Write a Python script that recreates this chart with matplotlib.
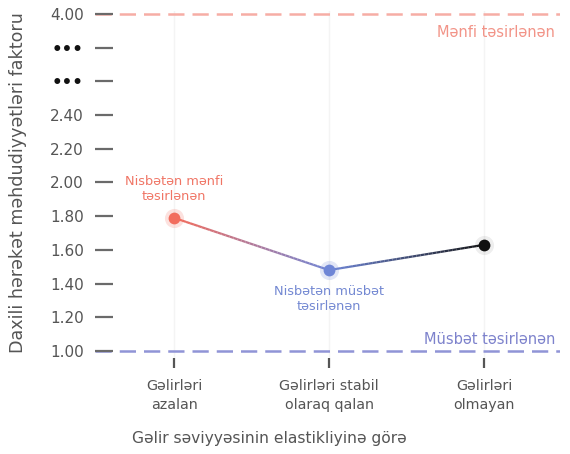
import numpy as np
import matplotlib
matplotlib.use("Agg")
import matplotlib.pyplot as plt
from matplotlib.collections import LineCollection
from matplotlib.colors import LinearSegmentedColormap

categories = ["Gəlirləri\nazalan", "Gəlirləri stabil\nolaraq qalan", "Gəlirləri\nolmayan"]
values = [1.79, 1.48, 1.63]
point_colors = ["#f26d5e", "#6f86d6", "#111111"]

ytick_values = [1.00, 1.20, 1.40, 1.60, 1.80, 2.00, 2.20, 2.40, None, None, 4.00]
ytick_labels = ["1.00", "1.20", "1.40", "1.60", "1.80", "2.00", "2.20", "2.40", "•••", "•••", "4.00"]

neg_ref = 4.00
pos_ref = 1.00


def ypos(v):
    # compressed axis: 1.00..2.40 linear, 4.00 at top slot
    if v >= 4.0:
        return 10.0
    return (v - 1.0) / 0.2


plt.rcParams['font.family'] = ['DejaVu Sans']

fig = plt.figure(figsize=(5.7, 4.54), dpi=100)
ax = fig.add_axes([0.1667, 0.2106, 0.8158, 0.766])

x = np.arange(len(categories))
y = np.array([ypos(v) for v in values])

# faint vertical guides
for xi in x:
    ax.axvline(xi, color="#f4f4f4", lw=1, zorder=0)

# reference lines
ax.axhline(ypos(neg_ref), color="#f6ada5", lw=1.8, dashes=(6.5, 3.2), zorder=1)
ax.axhline(ypos(pos_ref), color="#9094d6", lw=1.8, dashes=(6.5, 3.2), zorder=1)
ax.text(2.46, ypos(neg_ref) - 0.32, "Mənfi təsirlənən", color="#f29488",
        ha="right", va="top", fontsize=10.5)
ax.text(2.46, ypos(pos_ref) + 0.12, "Müsbət təsirlənən", color="#7d82cc",
        ha="right", va="bottom", fontsize=10.5)

# gradient line between points
for i in range(len(x) - 1):
    t = np.linspace(0, 1, 40)
    xs = x[i] + t * (x[i + 1] - x[i])
    ys = y[i] + t * (y[i + 1] - y[i])
    pts = np.column_stack([xs, ys]).reshape(-1, 1, 2)
    segs = np.concatenate([pts[:-1], pts[1:]], axis=1)
    cmap = LinearSegmentedColormap.from_list("g", [point_colors[i], point_colors[i + 1]])
    lc = LineCollection(segs, colors=cmap(t[:-1]), linewidths=1.6, zorder=2)
    ax.add_collection(lc)

# points with soft halo
halo = [0.2, 0.2, 0.07]
for xi, yi, c, a in zip(x, y, point_colors, halo):
    ax.scatter(xi, yi, s=190, color=c, alpha=a, lw=0, zorder=3)
    ax.scatter(xi, yi, s=72, color=c, lw=0, zorder=4)

ax.text(x[0], y[0] + 0.45, "Nisbətən mənfi\ntəsirlənən", color="#f07565",
        ha="center", va="bottom", fontsize=9.3, linespacing=1.2)
ax.text(x[1], y[1] - 0.45, "Nisbətən müsbət\ntəsirlənən", color="#7388d2",
        ha="center", va="top", fontsize=9.3, linespacing=1.2)

ax.set_xlim(-0.51, 2.49)
ax.set_ylim(-0.22, 10.1)
ax.set_xticks(x)
ax.set_xticklabels(categories, color="#555555", fontsize=10.3, linespacing=1.45)
ax.set_yticks(range(len(ytick_labels)))
ax.set_yticklabels(ytick_labels, color="#555555", fontsize=11)
for lbl in ax.get_yticklabels():
    if lbl.get_text() == "•••":
        lbl.set_color("#111111")
        lbl.set_fontweight("bold")
        lbl.set_fontsize(12)

ax.tick_params(axis="y", direction="in", length=13, width=1.6, color="#6a6a6a", pad=8)
ax.tick_params(axis="x", direction="out", length=7, width=1.6, color="#555555", pad=8)
for s in ax.spines.values():
    s.set_visible(False)

fig.text(0.032, 0.597, "Daxili hərəkət məhdudiyyətləri faktoru", rotation=90,
         ha="center", va="center", color="#555555", fontsize=12.6)
fig.text(0.472, 0.035, "Gəlir səviyyəsinin elastikliyinə görə", ha="center",
         va="center", color="#555555", fontsize=11.2)

fig.savefig("out.png", dpi=100)
